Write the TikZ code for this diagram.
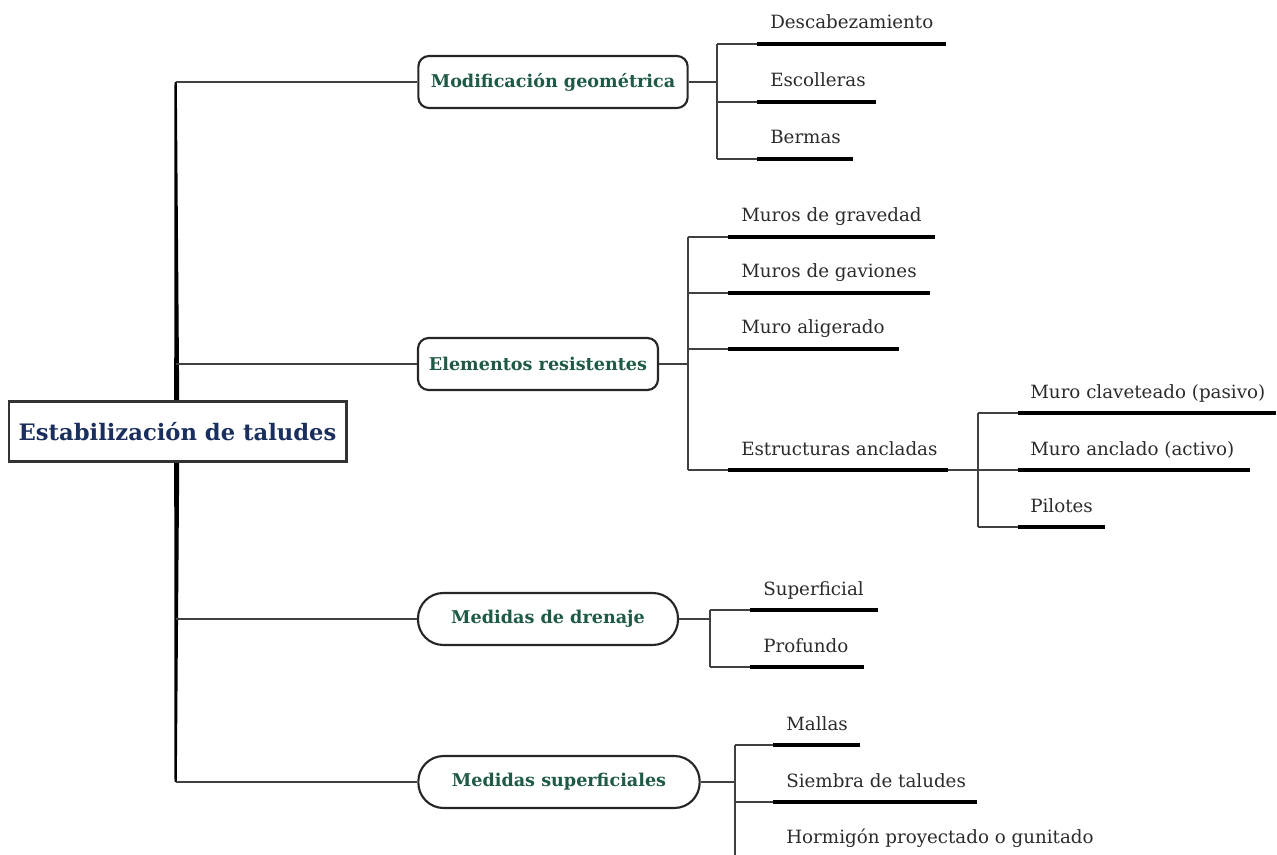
\documentclass[tikz,border=0pt]{standalone}
\usepackage{fontspec}
\setmainfont{DejaVu Serif}
\definecolor{rootblue}{HTML}{1B2F5E}
\definecolor{branchgreen}{HTML}{1E5A45}
\definecolor{txtgray}{HTML}{2B2B2B}
\begin{document}
\begin{tikzpicture}[x=0.75pt,y=-0.75pt,
  rootbox/.style={draw=black!80,line width=2pt,fill=white,minimum height=45pt,inner xsep=6pt,font=\fontsize{17}{20}\selectfont\bfseries,text=rootblue},
  rbox/.style={draw=black!85,line width=1.6pt,fill=white,rounded corners=8pt,minimum height=39pt,inner xsep=6pt,font=\fontsize{13.2}{16}\selectfont\bfseries,text=branchgreen},
  sbox/.style={rbox,rounded corners=19pt},
  leaf/.style={anchor=base west,inner sep=0pt,font=\fontsize{13.7}{16}\selectfont,text=txtgray},
  link/.style={draw=black!75,line width=0.9pt},
  under/.style={draw=black,line width=2.4pt},
  trunkfill/.style={fill=black}]
\useasboundingbox (0,0) rectangle (1277,855);
% trunk
\coordinate (t1) at (175.5,82);
\coordinate (t2) at (175.5,364);
\coordinate (t3) at (175.5,619);
\coordinate (t4) at (175.5,782);
\fill[trunkfill] (174.5,82) -- (176.8,82) -- (179.3,410) -- (174.2,410) -- cycle;
\fill[trunkfill] (174.2,455) -- (179.3,455) -- (176.8,782) -- (174.5,782) -- cycle;
% root
\node[rootbox,minimum width=253pt] (root) at (177.5,431.5) {Estabilización de taludes};
% branches
\node[rbox,minimum width=202pt] (b1) at (553,82) {Modificación geométrica};
\node[rbox,minimum width=180pt] (b2) at (538,364) {Elementos resistentes};
\node[sbox,minimum width=195pt] (b3) at (548,619) {Medidas de drenaje};
\node[sbox,minimum width=211pt] (b4) at (559,782) {Medidas superficiales};
\draw[link] (t1) -- (b1.west);
\draw[link] (t2) -- (b2.west);
\draw[link] (t3) -- (b3.west);
\draw[link] (t4) -- (b4.west);
% ---- branch 1
\coordinate (v1) at (717,82);
\coordinate (v1a) at (717,44);
\coordinate (v1c) at (717,159);
\draw[link] (b1.east) -- (v1);
\draw[link] (v1a) -- (v1c);
\coordinate (u11) at (757,44); \coordinate (e11) at (946,44);
\coordinate (u12) at (757,102); \coordinate (e12) at (876,102);
\coordinate (u13) at (757,159); \coordinate (e13) at (853,159);
\draw[link] (v1a) -- (u11); \draw[link] (717,102) -- (u12); \draw[link] (v1c) -- (u13);
\draw[under] (u11) -- (e11); \draw[under] (u12) -- (e12); \draw[under] (u13) -- (e13);
\node[leaf] (n11) at (770,29) {Descabezamiento};
\node[leaf] (n12) at (770,87) {Escolleras};
\node[leaf] (n13) at (770,144) {Bermas};
% ---- branch 2
\coordinate (v2) at (688,364);
\coordinate (v2a) at (688,237);
\coordinate (v2d) at (688,470);
\draw[link] (b2.east) -- (v2);
\draw[link] (v2a) -- (v2d);
\coordinate (u21) at (728,237); \coordinate (e21) at (935,237);
\coordinate (u22) at (728,293); \coordinate (e22) at (930,293);
\coordinate (u23) at (728,349); \coordinate (e23) at (899,349);
\coordinate (u24) at (728,470); \coordinate (e24) at (948,470);
\draw[link] (v2a) -- (u21); \draw[link] (688,293) -- (u22); \draw[link] (688,349) -- (u23); \draw[link] (v2d) -- (u24);
\draw[under] (u21) -- (e21); \draw[under] (u22) -- (e22); \draw[under] (u23) -- (e23); \draw[under] (u24) -- (e24);
\node[leaf] (n21) at (741,222) {Muros de gravedad};
\node[leaf] (n22) at (741,278) {Muros de gaviones};
\node[leaf] (n23) at (741,334) {Muro aligerado};
\node[leaf] (n24) at (741,455) {Estructuras ancladas};
% sub-branch
\coordinate (v3) at (978,470);
\coordinate (v3a) at (978,413);
\coordinate (v3c) at (978,527);
\draw[link] (e24) -- (v3);
\draw[link] (v3a) -- (v3c);
\coordinate (u31) at (1018,413); \coordinate (e31) at (1276,413);
\coordinate (u32) at (1018,470); \coordinate (e32) at (1250,470);
\coordinate (u33) at (1018,527); \coordinate (e33) at (1105,527);
\draw[link] (v3a) -- (u31); \draw[link] (v3) -- (u32); \draw[link] (v3c) -- (u33);
\draw[under] (u31) -- (e31); \draw[under] (u32) -- (e32); \draw[under] (u33) -- (e33);
\node[leaf] (n31) at (1030,398) {Muro claveteado (pasivo)};
\node[leaf] (n32) at (1030,455) {Muro anclado (activo)};
\node[leaf] (n33) at (1030,512) {Pilotes};
% ---- branch 3
\coordinate (v4) at (710,619);
\coordinate (v4a) at (710,610);
\coordinate (v4b) at (710,667);
\draw[link] (b3.east) -- (v4);
\draw[link] (v4a) -- (v4b);
\coordinate (u41) at (750,610); \coordinate (e41) at (878,610);
\coordinate (u42) at (750,667); \coordinate (e42) at (864,667);
\draw[link] (v4a) -- (u41); \draw[link] (v4b) -- (u42);
\draw[under] (u41) -- (e41); \draw[under] (u42) -- (e42);
\node[leaf] (n41) at (763,595) {Superficial};
\node[leaf] (n42) at (763,652) {Profundo};
% ---- branch 4
\coordinate (v5) at (735,782);
\coordinate (v5a) at (735,745);
\coordinate (v5c) at (735,860);
\draw[link] (b4.east) -- (v5);
\draw[link] (v5a) -- (v5c);
\coordinate (u51) at (773,745); \coordinate (e51) at (860,745);
\coordinate (u52) at (773,802); \coordinate (e52) at (977,802);
\draw[link] (v5a) -- (u51); \draw[link] (735,802) -- (u52);
\draw[under] (u51) -- (e51); \draw[under] (u52) -- (e52);
\node[leaf] (n51) at (786,730) {Mallas};
\node[leaf] (n52) at (786,787) {Siembra de taludes};
\node[leaf] (n53) at (786,843) {Hormigón proyectado o gunitado};
\end{tikzpicture}
\end{document}
